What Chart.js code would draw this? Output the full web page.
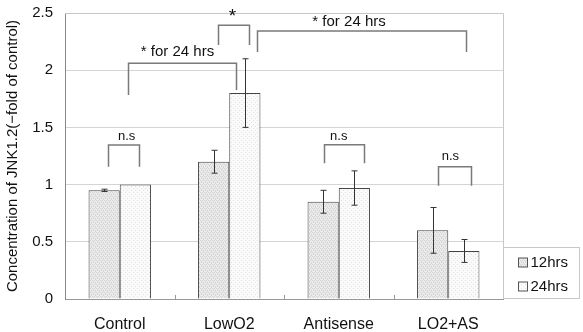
<!DOCTYPE html>
<html>
<head>
<meta charset="utf-8">
<script src="https://cdn.jsdelivr.net/npm/chart.js@4"></script>
<style>
  html, body { margin: 0; padding: 0; background: #fff; }
  #wrap { width: 583px; height: 332px; position: relative; }
</style>
</head>
<body>
<div id="wrap"><canvas id="jnkChart"></canvas></div>
<script>
// data
const categories = ['Control', 'LowO2', 'Antisense', 'LO2+AS'];
const seriesNames = ['12hrs', '24hrs'];
const values12 = [0.95, 1.20, 0.85, 0.60];
const values24 = [1.00, 1.80, 0.97, 0.42];
const err12 = [0.01, 0.10, 0.10, 0.20];
const err24 = [0.00, 0.30, 0.15, 0.10];
const yTicks = [0, 0.5, 1, 1.5, 2, 2.5];

// significance brackets: x in category units (0 = centre of Control), y in data units
const brackets = [
    { x1: -0.105, x2: 0.173, top: 1.346, b1: 1.156, b2: 1.156, label: 'n.s', lx: 0.063, ly: 1.42, size: 13 },
    { x1: 1.865, x2: 2.231, top: 1.349, b1: 1.186, b2: 1.186, label: 'n.s', lx: 2.0, ly: 1.425, size: 13 },
    { x1: 2.904, x2: 3.205, top: 1.156, b1: 0.99, b2: 0.99, label: 'n.s', lx: 3.02, ly: 1.25, size: 13 },
    { x1: 0.897, x2: 1.18, top: 2.392, b1: 2.22, b2: 2.22, label: '*', lx: 1.03, ly: 2.465, size: 19 },
    { x1: 0.078, x2: 1.062, top: 2.06, b1: 1.783, b2: 1.827, label: '* for 24 hrs', lx: 0.527, ly: 2.16, size: 15 },
    { x1: 1.251, x2: 3.162, top: 2.343, b1: 2.16, b2: 2.16, label: '* for 24 hrs', lx: 2.094, ly: 2.42, size: 15 }
];

const FONT = '"Liberation Sans", Arial, sans-serif';

const makePattern = (bg, dot, step) => {
    const c = document.createElement('canvas');
    c.width = 4; c.height = 4;
    const g = c.getContext('2d');
    g.fillStyle = bg;
    g.fillRect(0, 0, 4, 4);
    g.fillStyle = dot;
    if (step === 'checker') {
        g.fillRect(0, 0, 1, 1); g.fillRect(2, 0, 1, 1);
        g.fillRect(1, 2, 1, 1); g.fillRect(3, 2, 1, 1);
        g.fillRect(1, 1, 1, 1); g.fillRect(3, 3, 1, 1);
    } else {
        g.fillRect(1, 0, 1, 1); g.fillRect(3, 2, 1, 1);
    }
    return g.createPattern(c, 'repeat');
};

const fill12 = makePattern('#ebebeb', '#d6d6d6', 'checker');
const fill24 = makePattern('#fafafa', '#e2e2e2', 'lines');

const errorBars = {
    id: 'errorBars',
    afterDatasetsDraw(chart) {
        const ctx = chart.ctx;
        const y = chart.scales.y;
        const errs = [err12, err24];
        const vals = [values12, values24];
        ctx.save();
        ctx.strokeStyle = '#333';
        ctx.lineWidth = 1;
        chart.data.datasets.forEach((ds, di) => {
            const meta = chart.getDatasetMeta(di);
            meta.data.forEach((bar, i) => {
                const e = errs[di][i];
                if (!e) return;
                const x = Math.round(bar.x) + 0.5;
                const yt = y.getPixelForValue(vals[di][i] + e);
                const yb = y.getPixelForValue(vals[di][i] - e);
                ctx.beginPath();
                ctx.moveTo(x, yt); ctx.lineTo(x, yb);
                ctx.moveTo(x - 3, yt); ctx.lineTo(x + 3, yt);
                ctx.moveTo(x - 3, yb); ctx.lineTo(x + 3, yb);
                ctx.stroke();
            });
        });
        ctx.restore();
    }
};

const frameAndNotes = {
    id: 'frameAndNotes',
    beforeDatasetsDraw(chart) {
        const { ctx, chartArea: a } = chart;
        ctx.save();
        ctx.strokeStyle = '#c8c8c8';
        ctx.lineWidth = 1;
        ctx.beginPath();
        ctx.moveTo(a.left, a.top + 0.5); ctx.lineTo(a.right + 0.5, a.top + 0.5);
        ctx.lineTo(a.right + 0.5, a.bottom);
        ctx.stroke();
        // small category ticks on the x axis
        const cw = (a.right - a.left) / categories.length;
        ctx.strokeStyle = '#999';
        ctx.beginPath();
        for (let i = 1; i < categories.length; i++) {
            const x = Math.round(a.left + cw * i) + 0.5;
            ctx.moveTo(x, a.bottom); ctx.lineTo(x, a.bottom - 4);
        }
        ctx.stroke();
        ctx.restore();
    },
    afterDraw(chart) {
        const { ctx, chartArea: a } = chart;
        const y = chart.scales.y;
        const x0 = chart.scales.x.getPixelForValue(0);
        const cw = (a.right - a.left) / categories.length;
        const px = (u) => Math.round(x0 + u * cw) + 0.5;
        ctx.save();
        ctx.strokeStyle = '#7a7a7a';
        ctx.lineWidth = 1.5;
        brackets.forEach((b) => {
            ctx.beginPath();
            ctx.moveTo(px(b.x1), y.getPixelForValue(b.b1));
            ctx.lineTo(px(b.x1), y.getPixelForValue(b.top));
            ctx.lineTo(px(b.x2), y.getPixelForValue(b.top));
            ctx.lineTo(px(b.x2), y.getPixelForValue(b.b2));
            ctx.stroke();
            ctx.fillStyle = '#111';
            ctx.font = b.size + 'px ' + FONT;
            ctx.textAlign = 'center';
            ctx.textBaseline = 'middle';
            ctx.fillText(b.label, x0 + b.lx * cw, y.getPixelForValue(b.ly));
        });

        // legend box at lower right
        const lx = a.right + 0.5, ly = 247.5, lw = 76, lh = 51;
        ctx.fillStyle = '#fff';
        ctx.fillRect(lx, ly, lw, lh);
        ctx.strokeStyle = '#c8c8c8';
        ctx.lineWidth = 1;
        ctx.strokeRect(lx, ly, lw, lh);
        const fills = [fill12, fill24];
        seriesNames.forEach((name, i) => {
            const cy = ly + 15 + i * 24;
            ctx.fillStyle = fills[i];
            ctx.fillRect(lx + 15, cy - 4.5, 9, 9);
            ctx.strokeStyle = '#555';
            ctx.strokeRect(lx + 15, cy - 4.5, 9, 9);
            ctx.fillStyle = '#111';
            ctx.font = '15px ' + FONT;
            ctx.textAlign = 'left';
            ctx.textBaseline = 'middle';
            ctx.fillText(name, lx + 27, cy);
        });
        ctx.restore();
    }
};

new Chart(document.getElementById('jnkChart'), {
    type: 'bar',
    data: {
        labels: categories,
        datasets: [{
            label: seriesNames[0],
            data: values12,
            backgroundColor: fill12,
            borderColor: '#444',
            borderWidth: 1,
            barPercentage: 1,
            categoryPercentage: 0.57,
        }, {
            label: seriesNames[1],
            data: values24,
            backgroundColor: fill24,
            borderColor: '#444',
            borderWidth: 1,
            barPercentage: 1,
            categoryPercentage: 0.57,
        }]
    },
    options: {
        responsive: true,
        maintainAspectRatio: false,
        animation: false,
        layout: { padding: { top: 13, right: 80, bottom: 0, left: 0 } },
        plugins: {
            legend: { display: false },
            tooltip: { enabled: false },
        },
        scales: {
            x: {
                grid: { display: false },
                border: { color: '#999' },
                ticks: { color: '#111', padding: 8, font: { family: FONT, size: 16 } },
                afterFit: (s) => { s.height = 33; s.paddingLeft = 0; s.paddingRight = 0; },
            },
            y: {
                min: 0,
                max: 2.5,
                afterBuildTicks: (s) => { s.ticks = yTicks.map(v => ({ value: v })); },
                grid: { color: '#d4d4d4', drawTicks: false },
                border: { color: '#888' },
                ticks: {
                    color: '#111',
                    padding: 12,
                    font: { family: FONT, size: 15 },
                    callback: (v) => String(v),
                },
                title: {
                    display: true,
                    text: 'Concentration of JNK1.2(\u2212fold of control)',
                    color: '#111',
                    font: { family: FONT, size: 15 },
                    padding: { top: 4, bottom: 4 },
                },
                afterFit: (s) => { s.width = 65; s.paddingTop = 0; s.paddingBottom = 0; },
            }
        }
    },
    plugins: [frameAndNotes, errorBars]
});
</script>
</body>
</html>
